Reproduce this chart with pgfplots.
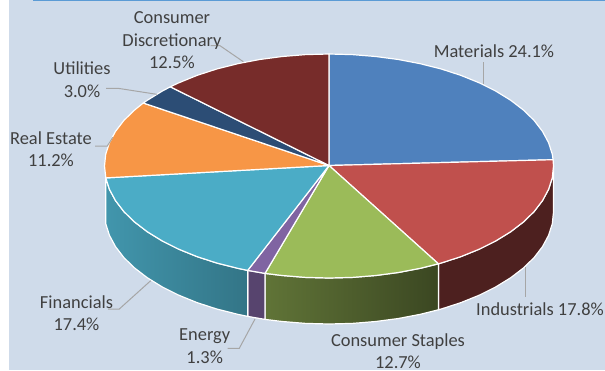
\documentclass[border=0pt]{standalone}
\usepackage{pgfplots}
\pgfplotsset{compat=1.18}
\usepackage{fontspec}
\setmainfont{Carlito}
\definecolor{panel}{HTML}{CFDBEA}
\definecolor{topline}{HTML}{5B9BD5}
\definecolor{leader}{HTML}{A6A6A6}
\definecolor{labeltext}{HTML}{404040}
\definecolor{materials}{HTML}{4F81BD}
\definecolor{industrials}{HTML}{C0504D}
\definecolor{staples}{HTML}{9BBB59}
\definecolor{energy}{HTML}{8064A2}
\definecolor{financials}{HTML}{4BACC6}
\definecolor{realestate}{HTML}{F79646}
\definecolor{utilities}{HTML}{2C4D75}
\definecolor{discretionary}{HTML}{772C2A}
\tikzset{
  slice/.style={draw=white, line width=1.2pt, line join=round},
  lead/.style={draw=leader, line width=1pt},
  lab/.style={font=\fontsize{18.4}{22.5}\selectfont, text=labeltext, align=center, inner sep=0pt},
}
\begin{document}
\begin{tikzpicture}[x=1pt,y=1pt]
\useasboundingbox (0,0) rectangle (605,370);
\begin{axis}[
  at={(0,0)}, anchor=south west,
  scale only axis, width=605pt, height=370pt,
  xmin=0, xmax=605, ymin=0, ymax=370, y dir=reverse,
  hide axis, clip=false,
  every axis plot/.append style={mark=none, forget plot},
]
% Panel behind the pie, and its rule along the top
\addplot[fill=panel, draw=none] coordinates {(8.5,0) (605,0) (605,370) (8.5,370)} -- cycle;
\addplot[draw=topline, line width=1.3pt] coordinates {(33,0.7) (605,0.7)};

% Side walls of the disc, 46 units deep
\addplot[slice, fill=industrials!40!black] coordinates {
  (553.5,166) (552.3,177.7) (548.6,189.3) (542.5,200.6) (534.1,211.6) (523.4,222.0)
  (510.6,231.8) (495.8,240.9) (479.2,249.2) (461.0,256.6) (441.3,263.0) (438.4,263.8)
  (438.4,309.8) (441.3,309.0) (461.0,302.6) (479.2,295.2) (495.8,286.9) (510.6,277.8)
  (523.4,268.0) (534.1,257.6) (542.5,246.6) (548.6,235.3) (552.3,223.7) (553.5,212)
} -- cycle;
\addplot[slice, left color=staples!62!black, right color=staples!38!black] coordinates {
  (438.4,263.8) (420.3,268.3) (398.4,272.5) (375.7,275.5) (352.5,277.4) (329,278)
  (305.5,277.4) (282.3,275.5) (265.0,273.4)
  (265.0,319.4) (282.3,321.5) (305.5,323.4) (329,324) (352.5,323.4) (375.7,321.5)
  (398.4,318.5) (420.3,314.3) (438.4,309.8)
} -- cycle;
\addplot[slice, fill=energy!68!black] coordinates {
  (265.0,273.4) (247.7,270.4) (247.7,316.4) (265.0,319.4)
} -- cycle;
\addplot[slice, left color=financials!87!black, right color=financials!68!black] coordinates {
  (247.7,270.4) (237.7,268.3) (216.7,263.0) (197.0,256.6) (178.8,249.2) (162.2,240.9)
  (147.4,231.8) (134.6,222.0) (123.9,211.6) (115.5,200.6) (109.4,189.3) (105.8,177.9)
  (105.8,223.9) (109.4,235.3) (115.5,246.6) (123.9,257.6) (134.6,268.0) (147.4,277.8)
  (162.2,286.9) (178.8,295.2) (197.0,302.6) (216.7,309.0) (237.7,314.3) (247.7,316.4)
} -- cycle;

% Top face: one wedge per sector, clockwise from twelve o'clock
% Materials 24.1%
\addplot[slice, fill=materials] coordinates {
  (329,165.5) (329,54) (352.5,54.6) (375.7,56.5) (398.4,59.5) (420.3,63.7) (441.3,69.0)
  (461.0,75.4) (479.2,82.8) (495.8,91.1) (510.6,100.2) (523.4,110.0) (534.1,120.4)
  (542.5,131.4) (548.6,142.7) (552.3,154.3) (553.1,159.7)
} -- cycle;
% Industrials 17.8%
\addplot[slice, fill=industrials] coordinates {
  (329,165.5) (553.1,159.7) (553.5,166) (552.3,177.7) (548.6,189.3) (542.5,200.6)
  (534.1,211.6) (523.4,222.0) (510.6,231.8) (495.8,240.9) (479.2,249.2) (461.0,256.6)
  (441.3,263.0) (438.4,263.8)
} -- cycle;
% Consumer Staples 12.7%
\addplot[slice, fill=staples] coordinates {
  (329,165.5) (438.4,263.8) (420.3,268.3) (398.4,272.5) (375.7,275.5) (352.5,277.4)
  (329,278) (305.5,277.4) (282.3,275.5) (265.0,273.4)
} -- cycle;
% Energy 1.3%
\addplot[slice, fill=energy] coordinates {
  (329,165.5) (265.0,273.4) (247.7,270.4)
} -- cycle;
% Financials 17.4%
\addplot[slice, fill=financials] coordinates {
  (329,165.5) (247.7,270.4) (237.7,268.3) (216.7,263.0) (197.0,256.6) (178.8,249.2)
  (162.2,240.9) (147.4,231.8) (134.6,222.0) (123.9,211.6) (115.5,200.6) (109.4,189.3)
  (105.8,177.9)
} -- cycle;
% Real Estate 11.2%
\addplot[slice, fill=realestate] coordinates {
  (329,165.5) (105.8,177.9) (104.5,166) (105.7,154.3) (109.4,142.7) (115.5,131.4)
  (123.9,120.4) (134.6,110.0) (143.3,103.0)
} -- cycle;
% Utilities 3.0%
\addplot[slice, fill=utilities] coordinates {
  (329,165.5) (143.3,103.0) (147.4,100.2) (162.2,91.1) (170.3,86.8)
} -- cycle;
% Consumer Discretionary 12.5%
\addplot[slice, fill=discretionary] coordinates {
  (329,165.5) (170.3,86.8) (178.8,82.8) (197.0,75.4) (216.7,69.0) (237.7,63.7)
  (259.6,59.5) (282.3,56.5) (305.5,54.6) (329,54)
} -- cycle;

% Leader lines from labels to sectors
\addplot[lead] coordinates {(483,62) (483,84)};
\addplot[lead] coordinates {(210.7,45.7) (220,45.7) (243.3,61.7)};
\addplot[lead] coordinates {(106,88.3) (118,88.3) (156.7,94.3)};
\addplot[lead] coordinates {(95,146) (107.3,146) (112.7,137.3)};
\addplot[lead] coordinates {(108,309) (119.3,309) (150.7,280.7)};
\addplot[lead] coordinates {(227.7,348.3) (239.3,348.3) (255,319)};
\addplot[lead] coordinates {(525,296.7) (525,266.7)};

% Category labels
\node[lab] at (axis cs:494,51) {Materials 24.1\%};
\node[lab] at (axis cs:172,40.5) {Consumer\\Discretionary\\12.5\%};
\node[lab] at (axis cs:82,79.5) {Utilities\\3.0\%};
\node[lab] at (axis cs:51,149) {Real Estate\\11.2\%};
\node[lab] at (axis cs:76.5,313) {Financials\\17.4\%};
\node[lab] at (axis cs:204.7,346) {Energy\\1.3\%};
\node[lab] at (axis cs:540,309) {Industrials 17.8\%};
\node[lab] at (axis cs:398,351) {Consumer Staples\\12.7\%};
\end{axis}
\end{tikzpicture}
\end{document}
